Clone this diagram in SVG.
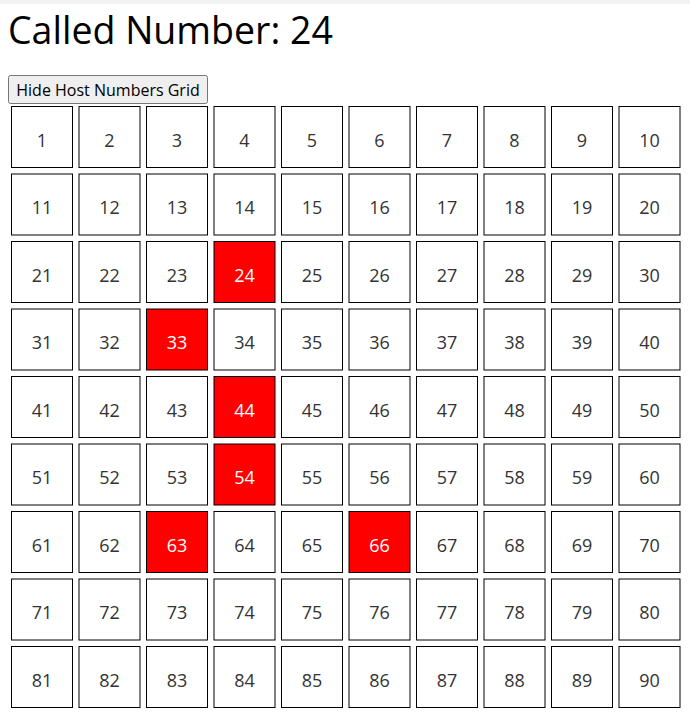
<svg xmlns="http://www.w3.org/2000/svg" width="690" height="715" viewBox="0 0 690 715">
<style>
.c{fill:#fff;stroke:#000;stroke-width:1}
.h .c{fill:#ff0000}
.t{font-family:"Open Sans","Noto Sans",sans-serif;font-size:18px;fill:#333;text-anchor:middle}
.h .t{fill:#fff}
</style>
<rect x="0" y="0" width="690" height="715" fill="#fff"/>
<rect x="0" y="0" width="690" height="4" fill="#f2f2f2"/>
<text id="title" x="8" y="44" font-family="'Open Sans','Noto Sans',sans-serif" font-size="37.5" fill="#000">Called Number: 24</text>
<g id="button">
<rect x="8.5" y="75.5" width="199" height="28" rx="2" fill="#efefef" stroke="#767676" stroke-width="1"/>
<text x="108" y="95.5" font-family="'Open Sans','Noto Sans',sans-serif" font-size="16" fill="#000" text-anchor="middle">Hide Host Numbers Grid</text>
</g>
<g id="grid">
<g id="n1" transform="translate(11,106)"><rect class="c" x="0.5" y="0.5" width="61" height="61"/><text class="t" x="31" y="40.5">1</text></g>
<g id="n2" transform="translate(78.5,106)"><rect class="c" x="0.5" y="0.5" width="61" height="61"/><text class="t" x="31" y="40.5">2</text></g>
<g id="n3" transform="translate(146,106)"><rect class="c" x="0.5" y="0.5" width="61" height="61"/><text class="t" x="31" y="40.5">3</text></g>
<g id="n4" transform="translate(213.5,106)"><rect class="c" x="0.5" y="0.5" width="61" height="61"/><text class="t" x="31" y="40.5">4</text></g>
<g id="n5" transform="translate(281,106)"><rect class="c" x="0.5" y="0.5" width="61" height="61"/><text class="t" x="31" y="40.5">5</text></g>
<g id="n6" transform="translate(348.5,106)"><rect class="c" x="0.5" y="0.5" width="61" height="61"/><text class="t" x="31" y="40.5">6</text></g>
<g id="n7" transform="translate(416,106)"><rect class="c" x="0.5" y="0.5" width="61" height="61"/><text class="t" x="31" y="40.5">7</text></g>
<g id="n8" transform="translate(483.5,106)"><rect class="c" x="0.5" y="0.5" width="61" height="61"/><text class="t" x="31" y="40.5">8</text></g>
<g id="n9" transform="translate(551,106)"><rect class="c" x="0.5" y="0.5" width="61" height="61"/><text class="t" x="31" y="40.5">9</text></g>
<g id="n10" transform="translate(618.5,106)"><rect class="c" x="0.5" y="0.5" width="61" height="61"/><text class="t" x="31" y="40.5">10</text></g>
<g id="n11" transform="translate(11,173.5)"><rect class="c" x="0.5" y="0.5" width="61" height="61"/><text class="t" x="31" y="40.5">11</text></g>
<g id="n12" transform="translate(78.5,173.5)"><rect class="c" x="0.5" y="0.5" width="61" height="61"/><text class="t" x="31" y="40.5">12</text></g>
<g id="n13" transform="translate(146,173.5)"><rect class="c" x="0.5" y="0.5" width="61" height="61"/><text class="t" x="31" y="40.5">13</text></g>
<g id="n14" transform="translate(213.5,173.5)"><rect class="c" x="0.5" y="0.5" width="61" height="61"/><text class="t" x="31" y="40.5">14</text></g>
<g id="n15" transform="translate(281,173.5)"><rect class="c" x="0.5" y="0.5" width="61" height="61"/><text class="t" x="31" y="40.5">15</text></g>
<g id="n16" transform="translate(348.5,173.5)"><rect class="c" x="0.5" y="0.5" width="61" height="61"/><text class="t" x="31" y="40.5">16</text></g>
<g id="n17" transform="translate(416,173.5)"><rect class="c" x="0.5" y="0.5" width="61" height="61"/><text class="t" x="31" y="40.5">17</text></g>
<g id="n18" transform="translate(483.5,173.5)"><rect class="c" x="0.5" y="0.5" width="61" height="61"/><text class="t" x="31" y="40.5">18</text></g>
<g id="n19" transform="translate(551,173.5)"><rect class="c" x="0.5" y="0.5" width="61" height="61"/><text class="t" x="31" y="40.5">19</text></g>
<g id="n20" transform="translate(618.5,173.5)"><rect class="c" x="0.5" y="0.5" width="61" height="61"/><text class="t" x="31" y="40.5">20</text></g>
<g id="n21" transform="translate(11,241)"><rect class="c" x="0.5" y="0.5" width="61" height="61"/><text class="t" x="31" y="40.5">21</text></g>
<g id="n22" transform="translate(78.5,241)"><rect class="c" x="0.5" y="0.5" width="61" height="61"/><text class="t" x="31" y="40.5">22</text></g>
<g id="n23" transform="translate(146,241)"><rect class="c" x="0.5" y="0.5" width="61" height="61"/><text class="t" x="31" y="40.5">23</text></g>
<g id="n24" class="h" transform="translate(213.5,241)"><rect class="c" x="0.5" y="0.5" width="61" height="61"/><text class="t" x="31" y="40.5">24</text></g>
<g id="n25" transform="translate(281,241)"><rect class="c" x="0.5" y="0.5" width="61" height="61"/><text class="t" x="31" y="40.5">25</text></g>
<g id="n26" transform="translate(348.5,241)"><rect class="c" x="0.5" y="0.5" width="61" height="61"/><text class="t" x="31" y="40.5">26</text></g>
<g id="n27" transform="translate(416,241)"><rect class="c" x="0.5" y="0.5" width="61" height="61"/><text class="t" x="31" y="40.5">27</text></g>
<g id="n28" transform="translate(483.5,241)"><rect class="c" x="0.5" y="0.5" width="61" height="61"/><text class="t" x="31" y="40.5">28</text></g>
<g id="n29" transform="translate(551,241)"><rect class="c" x="0.5" y="0.5" width="61" height="61"/><text class="t" x="31" y="40.5">29</text></g>
<g id="n30" transform="translate(618.5,241)"><rect class="c" x="0.5" y="0.5" width="61" height="61"/><text class="t" x="31" y="40.5">30</text></g>
<g id="n31" transform="translate(11,308.5)"><rect class="c" x="0.5" y="0.5" width="61" height="61"/><text class="t" x="31" y="40.5">31</text></g>
<g id="n32" transform="translate(78.5,308.5)"><rect class="c" x="0.5" y="0.5" width="61" height="61"/><text class="t" x="31" y="40.5">32</text></g>
<g id="n33" class="h" transform="translate(146,308.5)"><rect class="c" x="0.5" y="0.5" width="61" height="61"/><text class="t" x="31" y="40.5">33</text></g>
<g id="n34" transform="translate(213.5,308.5)"><rect class="c" x="0.5" y="0.5" width="61" height="61"/><text class="t" x="31" y="40.5">34</text></g>
<g id="n35" transform="translate(281,308.5)"><rect class="c" x="0.5" y="0.5" width="61" height="61"/><text class="t" x="31" y="40.5">35</text></g>
<g id="n36" transform="translate(348.5,308.5)"><rect class="c" x="0.5" y="0.5" width="61" height="61"/><text class="t" x="31" y="40.5">36</text></g>
<g id="n37" transform="translate(416,308.5)"><rect class="c" x="0.5" y="0.5" width="61" height="61"/><text class="t" x="31" y="40.5">37</text></g>
<g id="n38" transform="translate(483.5,308.5)"><rect class="c" x="0.5" y="0.5" width="61" height="61"/><text class="t" x="31" y="40.5">38</text></g>
<g id="n39" transform="translate(551,308.5)"><rect class="c" x="0.5" y="0.5" width="61" height="61"/><text class="t" x="31" y="40.5">39</text></g>
<g id="n40" transform="translate(618.5,308.5)"><rect class="c" x="0.5" y="0.5" width="61" height="61"/><text class="t" x="31" y="40.5">40</text></g>
<g id="n41" transform="translate(11,376)"><rect class="c" x="0.5" y="0.5" width="61" height="61"/><text class="t" x="31" y="40.5">41</text></g>
<g id="n42" transform="translate(78.5,376)"><rect class="c" x="0.5" y="0.5" width="61" height="61"/><text class="t" x="31" y="40.5">42</text></g>
<g id="n43" transform="translate(146,376)"><rect class="c" x="0.5" y="0.5" width="61" height="61"/><text class="t" x="31" y="40.5">43</text></g>
<g id="n44" class="h" transform="translate(213.5,376)"><rect class="c" x="0.5" y="0.5" width="61" height="61"/><text class="t" x="31" y="40.5">44</text></g>
<g id="n45" transform="translate(281,376)"><rect class="c" x="0.5" y="0.5" width="61" height="61"/><text class="t" x="31" y="40.5">45</text></g>
<g id="n46" transform="translate(348.5,376)"><rect class="c" x="0.5" y="0.5" width="61" height="61"/><text class="t" x="31" y="40.5">46</text></g>
<g id="n47" transform="translate(416,376)"><rect class="c" x="0.5" y="0.5" width="61" height="61"/><text class="t" x="31" y="40.5">47</text></g>
<g id="n48" transform="translate(483.5,376)"><rect class="c" x="0.5" y="0.5" width="61" height="61"/><text class="t" x="31" y="40.5">48</text></g>
<g id="n49" transform="translate(551,376)"><rect class="c" x="0.5" y="0.5" width="61" height="61"/><text class="t" x="31" y="40.5">49</text></g>
<g id="n50" transform="translate(618.5,376)"><rect class="c" x="0.5" y="0.5" width="61" height="61"/><text class="t" x="31" y="40.5">50</text></g>
<g id="n51" transform="translate(11,443.5)"><rect class="c" x="0.5" y="0.5" width="61" height="61"/><text class="t" x="31" y="40.5">51</text></g>
<g id="n52" transform="translate(78.5,443.5)"><rect class="c" x="0.5" y="0.5" width="61" height="61"/><text class="t" x="31" y="40.5">52</text></g>
<g id="n53" transform="translate(146,443.5)"><rect class="c" x="0.5" y="0.5" width="61" height="61"/><text class="t" x="31" y="40.5">53</text></g>
<g id="n54" class="h" transform="translate(213.5,443.5)"><rect class="c" x="0.5" y="0.5" width="61" height="61"/><text class="t" x="31" y="40.5">54</text></g>
<g id="n55" transform="translate(281,443.5)"><rect class="c" x="0.5" y="0.5" width="61" height="61"/><text class="t" x="31" y="40.5">55</text></g>
<g id="n56" transform="translate(348.5,443.5)"><rect class="c" x="0.5" y="0.5" width="61" height="61"/><text class="t" x="31" y="40.5">56</text></g>
<g id="n57" transform="translate(416,443.5)"><rect class="c" x="0.5" y="0.5" width="61" height="61"/><text class="t" x="31" y="40.5">57</text></g>
<g id="n58" transform="translate(483.5,443.5)"><rect class="c" x="0.5" y="0.5" width="61" height="61"/><text class="t" x="31" y="40.5">58</text></g>
<g id="n59" transform="translate(551,443.5)"><rect class="c" x="0.5" y="0.5" width="61" height="61"/><text class="t" x="31" y="40.5">59</text></g>
<g id="n60" transform="translate(618.5,443.5)"><rect class="c" x="0.5" y="0.5" width="61" height="61"/><text class="t" x="31" y="40.5">60</text></g>
<g id="n61" transform="translate(11,511)"><rect class="c" x="0.5" y="0.5" width="61" height="61"/><text class="t" x="31" y="40.5">61</text></g>
<g id="n62" transform="translate(78.5,511)"><rect class="c" x="0.5" y="0.5" width="61" height="61"/><text class="t" x="31" y="40.5">62</text></g>
<g id="n63" class="h" transform="translate(146,511)"><rect class="c" x="0.5" y="0.5" width="61" height="61"/><text class="t" x="31" y="40.5">63</text></g>
<g id="n64" transform="translate(213.5,511)"><rect class="c" x="0.5" y="0.5" width="61" height="61"/><text class="t" x="31" y="40.5">64</text></g>
<g id="n65" transform="translate(281,511)"><rect class="c" x="0.5" y="0.5" width="61" height="61"/><text class="t" x="31" y="40.5">65</text></g>
<g id="n66" class="h" transform="translate(348.5,511)"><rect class="c" x="0.5" y="0.5" width="61" height="61"/><text class="t" x="31" y="40.5">66</text></g>
<g id="n67" transform="translate(416,511)"><rect class="c" x="0.5" y="0.5" width="61" height="61"/><text class="t" x="31" y="40.5">67</text></g>
<g id="n68" transform="translate(483.5,511)"><rect class="c" x="0.5" y="0.5" width="61" height="61"/><text class="t" x="31" y="40.5">68</text></g>
<g id="n69" transform="translate(551,511)"><rect class="c" x="0.5" y="0.5" width="61" height="61"/><text class="t" x="31" y="40.5">69</text></g>
<g id="n70" transform="translate(618.5,511)"><rect class="c" x="0.5" y="0.5" width="61" height="61"/><text class="t" x="31" y="40.5">70</text></g>
<g id="n71" transform="translate(11,578.5)"><rect class="c" x="0.5" y="0.5" width="61" height="61"/><text class="t" x="31" y="40.5">71</text></g>
<g id="n72" transform="translate(78.5,578.5)"><rect class="c" x="0.5" y="0.5" width="61" height="61"/><text class="t" x="31" y="40.5">72</text></g>
<g id="n73" transform="translate(146,578.5)"><rect class="c" x="0.5" y="0.5" width="61" height="61"/><text class="t" x="31" y="40.5">73</text></g>
<g id="n74" transform="translate(213.5,578.5)"><rect class="c" x="0.5" y="0.5" width="61" height="61"/><text class="t" x="31" y="40.5">74</text></g>
<g id="n75" transform="translate(281,578.5)"><rect class="c" x="0.5" y="0.5" width="61" height="61"/><text class="t" x="31" y="40.5">75</text></g>
<g id="n76" transform="translate(348.5,578.5)"><rect class="c" x="0.5" y="0.5" width="61" height="61"/><text class="t" x="31" y="40.5">76</text></g>
<g id="n77" transform="translate(416,578.5)"><rect class="c" x="0.5" y="0.5" width="61" height="61"/><text class="t" x="31" y="40.5">77</text></g>
<g id="n78" transform="translate(483.5,578.5)"><rect class="c" x="0.5" y="0.5" width="61" height="61"/><text class="t" x="31" y="40.5">78</text></g>
<g id="n79" transform="translate(551,578.5)"><rect class="c" x="0.5" y="0.5" width="61" height="61"/><text class="t" x="31" y="40.5">79</text></g>
<g id="n80" transform="translate(618.5,578.5)"><rect class="c" x="0.5" y="0.5" width="61" height="61"/><text class="t" x="31" y="40.5">80</text></g>
<g id="n81" transform="translate(11,646)"><rect class="c" x="0.5" y="0.5" width="61" height="61"/><text class="t" x="31" y="40.5">81</text></g>
<g id="n82" transform="translate(78.5,646)"><rect class="c" x="0.5" y="0.5" width="61" height="61"/><text class="t" x="31" y="40.5">82</text></g>
<g id="n83" transform="translate(146,646)"><rect class="c" x="0.5" y="0.5" width="61" height="61"/><text class="t" x="31" y="40.5">83</text></g>
<g id="n84" transform="translate(213.5,646)"><rect class="c" x="0.5" y="0.5" width="61" height="61"/><text class="t" x="31" y="40.5">84</text></g>
<g id="n85" transform="translate(281,646)"><rect class="c" x="0.5" y="0.5" width="61" height="61"/><text class="t" x="31" y="40.5">85</text></g>
<g id="n86" transform="translate(348.5,646)"><rect class="c" x="0.5" y="0.5" width="61" height="61"/><text class="t" x="31" y="40.5">86</text></g>
<g id="n87" transform="translate(416,646)"><rect class="c" x="0.5" y="0.5" width="61" height="61"/><text class="t" x="31" y="40.5">87</text></g>
<g id="n88" transform="translate(483.5,646)"><rect class="c" x="0.5" y="0.5" width="61" height="61"/><text class="t" x="31" y="40.5">88</text></g>
<g id="n89" transform="translate(551,646)"><rect class="c" x="0.5" y="0.5" width="61" height="61"/><text class="t" x="31" y="40.5">89</text></g>
<g id="n90" transform="translate(618.5,646)"><rect class="c" x="0.5" y="0.5" width="61" height="61"/><text class="t" x="31" y="40.5">90</text></g>
</g>
</svg>
